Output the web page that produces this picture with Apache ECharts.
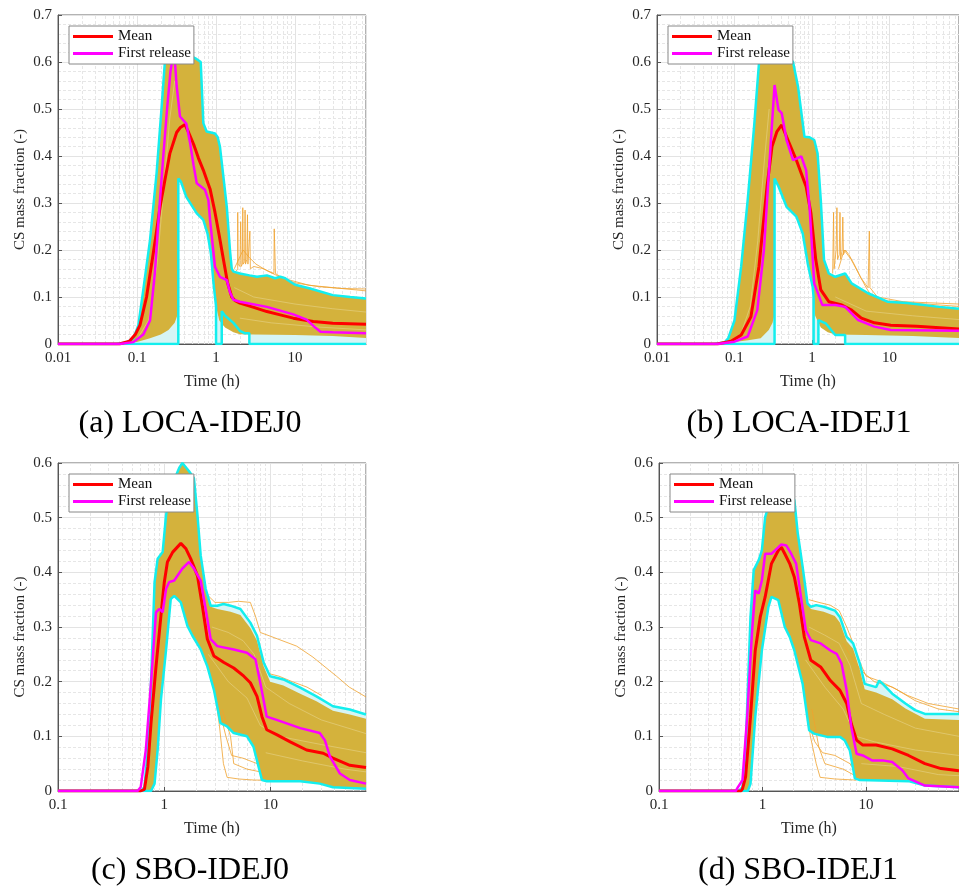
<!DOCTYPE html>
<html><head><meta charset="utf-8">
<script src="https://cdn.jsdelivr.net/npm/echarts@6/dist/echarts.min.js"></script>
<style>html,body{margin:0;padding:0;background:#fff}#c{width:959px;height:889px}</style>
</head><body><div id="c"></div>
<script>
// ---------------- DATA (time in h, CS mass fraction) ----------------
// (a) LOCA-IDEJ0
const aMax = [[0.01,0],[0.055,0],[0.075,0.004],[0.09,0.012],[0.104,0.04],[0.12,0.115],[0.146,0.221],[0.177,0.364],[0.205,0.505],[0.226,0.604],[0.25,0.64],[0.29,0.66],[0.35,0.655],[0.42,0.63],[0.49,0.612],[0.57,0.606],[0.64,0.6],[0.69,0.47],[0.76,0.452],[0.97,0.448],[1.05,0.44],[1.12,0.42],[1.25,0.35],[1.37,0.29],[1.5,0.2],[1.58,0.16],[1.66,0.154],[2.0,0.15],[2.65,0.146],[3.3,0.143],[4.4,0.146],[5.6,0.14],[6.5,0.143],[7.5,0.14],[8.6,0.133],[10,0.126],[15.5,0.118],[30,0.104],[50,0.1],[79,0.097]];
const aMin = [[0.01,0],[0.333,0],[0.333,0.352],[0.36,0.345],[0.42,0.313],[0.57,0.278],[0.69,0.264],[0.78,0.235],[0.86,0.193],[0.93,0.129],[1.0,0.08],[1.0,0],[1.18,0],[1.18,0.07],[1.3,0.06],[1.66,0.045],[2.0,0.028],[2.3,0.023],[2.64,0.023],[2.64,0],[79,0]];
const aGoldLow = [[0.01,0],[0.055,0],[0.1,0.004],[0.146,0.012],[0.2,0.02],[0.25,0.03],[0.3,0.045],[0.33,0.065],[0.333,0.352],[0.36,0.345],[0.42,0.313],[0.57,0.278],[0.69,0.264],[0.78,0.235],[0.86,0.193],[0.93,0.129],[1.0,0.08],[1.1,0.05],[1.3,0.035],[1.66,0.025],[2.0,0.021],[3,0.02],[10,0.019],[30,0.017],[79,0.013]];
const aMean = [[0.01,0],[0.06,0],[0.08,0.006],[0.095,0.02],[0.109,0.04],[0.132,0.1],[0.153,0.17],[0.175,0.235],[0.195,0.29],[0.226,0.35],[0.26,0.405],[0.317,0.45],[0.35,0.46],[0.405,0.467],[0.45,0.45],[0.52,0.425],[0.6,0.395],[0.69,0.37],[0.76,0.35],[0.84,0.33],[0.97,0.28],[1.1,0.23],[1.24,0.18],[1.4,0.13],[1.58,0.1],[1.75,0.092],[2.0,0.087],[3,0.078],[4.4,0.069],[6.5,0.062],[9.5,0.055],[17,0.048],[30,0.044],[79,0.042]];
const aFirst = [[0.01,0],[0.06,0],[0.09,0.004],[0.12,0.02],[0.146,0.05],[0.168,0.15],[0.19,0.28],[0.215,0.4],[0.24,0.5],[0.265,0.58],[0.288,0.618],[0.302,0.6],[0.317,0.55],[0.35,0.484],[0.42,0.469],[0.47,0.427],[0.52,0.38],[0.57,0.342],[0.725,0.328],[0.8,0.306],[0.84,0.264],[0.97,0.164],[1.12,0.143],[1.37,0.136],[1.5,0.11],[1.66,0.094],[2,0.09],[4.4,0.079],[9.5,0.063],[14,0.052],[18,0.035],[21,0.026],[30,0.025],[79,0.023]];
const aOut1 = [[1.8,0.155],[1.88,0.16],[1.88,0.28],[1.9,0.17],[2.0,0.165],[2.05,0.26],[2.08,0.165],[2.15,0.17],[2.18,0.29],[2.21,0.17],[2.3,0.175],[2.33,0.285],[2.36,0.17],[2.45,0.18],[2.5,0.275],[2.53,0.17],[2.65,0.17],[2.68,0.24],[2.72,0.16],[3,0.165],[4,0.16],[5.4,0.15],[5.45,0.245],[5.6,0.245],[5.65,0.15],[7,0.14],[10,0.13],[20,0.122],[40,0.118],[79,0.117]];
const aOut2 = [[1.7,0.16],[2.2,0.2],[2.6,0.185],[3.2,0.17],[4.5,0.155],[7,0.14],[15,0.125],[79,0.113]];
const aOut3 = [[0.9,0.25],[1.0,0.12],[1.1,0.06],[1.3,0.045]];
const aStreak1 = [[0.1,0.01],[0.14,0.05],[0.18,0.17],[0.22,0.34],[0.26,0.48],[0.3,0.56]];
const aStreak2 = [[1.7,0.12],[3,0.1],[10,0.085],[30,0.075],[79,0.068]];
const aStreak3 = [[2,0.055],[5,0.045],[20,0.036],[79,0.03]];
// (b) LOCA-IDEJ1
const bMax = [[0.01,0],[0.055,0],[0.075,0.004],[0.083,0.012],[0.1,0.05],[0.122,0.165],[0.148,0.306],[0.179,0.462],[0.207,0.597],[0.24,0.64],[0.3,0.66],[0.38,0.64],[0.49,0.61],[0.57,0.6],[0.66,0.548],[0.8,0.441],[0.93,0.44],[1.07,0.434],[1.18,0.406],[1.3,0.306],[1.43,0.179],[1.65,0.15],[2.0,0.143],[2.68,0.15],[3.25,0.129],[5.3,0.108],[9.4,0.09],[16.8,0.087],[44,0.079],[79,0.075]];
const bMin = [[0.01,0],[0.329,0],[0.329,0.352],[0.37,0.335],[0.47,0.292],[0.63,0.271],[0.76,0.235],[0.88,0.172],[1.02,0.122],[1.05,0.1],[1.05,0],[1.21,0],[1.21,0.051],[1.5,0.044],[2.0,0.019],[2.68,0.019],[2.68,0],[79,0]];
const bGoldLow = [[0.01,0],[0.055,0],[0.1,0.004],[0.15,0.008],[0.218,0.012],[0.277,0.03],[0.31,0.045],[0.326,0.06],[0.329,0.352],[0.37,0.335],[0.47,0.292],[0.63,0.271],[0.76,0.235],[0.88,0.172],[1.02,0.122],[1.1,0.06],[1.3,0.035],[1.6,0.025],[2.0,0.02],[5,0.019],[20,0.017],[79,0.013]];
const bMean = [[0.01,0],[0.06,0],[0.09,0.006],[0.122,0.019],[0.163,0.058],[0.207,0.165],[0.263,0.335],[0.305,0.42],[0.353,0.452],[0.407,0.466],[0.47,0.441],[0.63,0.391],[0.84,0.335],[0.97,0.278],[1.12,0.179],[1.3,0.115],[1.65,0.09],[2.43,0.083],[3.25,0.072],[4.34,0.055],[6.4,0.045],[10.4,0.04],[22.5,0.038],[79,0.032]];
const bFirst = [[0.01,0],[0.06,0],[0.1,0.005],[0.148,0.016],[0.197,0.072],[0.24,0.2],[0.29,0.413],[0.329,0.551],[0.37,0.498],[0.407,0.491],[0.47,0.434],[0.57,0.391],[0.73,0.399],[0.84,0.37],[0.93,0.292],[1.07,0.129],[1.36,0.083],[2.0,0.083],[2.68,0.079],[3.25,0.065],[3.95,0.051],[6.4,0.037],[10.4,0.03],[79,0.028]];
const bOut1 = [[1.85,0.15],[1.9,0.28],[1.93,0.16],[2.05,0.2],[2.1,0.29],[2.14,0.18],[2.25,0.19],[2.3,0.28],[2.34,0.18],[2.45,0.2],[2.5,0.27],[2.55,0.19],[2.7,0.2],[3.0,0.19],[3.5,0.17],[4.3,0.14],[5.3,0.12],[5.5,0.24],[5.6,0.12],[7,0.1],[15,0.09],[79,0.085]];
const bOut2 = [[2.2,0.16],[2.6,0.2],[3.2,0.18],[4,0.15],[5,0.12],[6,0.1],[9,0.092],[30,0.085],[79,0.08]];
const bStreak1 = [[0.12,0.02],[0.16,0.08],[0.2,0.22],[0.24,0.38],[0.28,0.5]];
const bStreak2 = [[2,0.1],[5,0.07],[20,0.06],[79,0.052]];
// (c) SBO-IDEJ0
const cMax = [[0.1,0],[0.6,0],[0.65,0.007],[0.70,0.075],[0.75,0.198],[0.81,0.382],[0.866,0.425],[0.965,0.437],[1.04,0.505],[1.15,0.554],[1.38,0.591],[1.48,0.6],[1.54,0.597],[1.71,0.585],[1.9,0.572],[2.05,0.505],[2.2,0.431],[2.45,0.37],[2.73,0.339],[3.15,0.339],[3.6,0.342],[4.2,0.339],[5.2,0.333],[6.45,0.308],[7.45,0.284],[8.6,0.235],[9.9,0.21],[13.2,0.204],[19,0.189],[27,0.173],[38.6,0.155],[55.6,0.149],[79,0.14]];
const cMin = [[0.1,0],[0.75,0],[0.81,0.0135],[0.866,0.075],[0.93,0.167],[1.04,0.259],[1.15,0.351],[1.24,0.357],[1.43,0.345],[1.65,0.302],[1.84,0.284],[2.2,0.259],[2.54,0.228],[2.93,0.185],[3.38,0.124],[3.9,0.118],[4.5,0.106],[6.0,0.1],[6.9,0.081],[8.3,0.02],[9.2,0.018],[19,0.018],[29,0.0135],[38.6,0.007],[79,0.004]];
const cGoldUp = [[0.1,0],[0.6,0],[0.65,0.007],[0.70,0.075],[0.75,0.198],[0.81,0.382],[0.866,0.425],[0.965,0.437],[1.04,0.505],[1.15,0.554],[1.38,0.591],[1.48,0.6],[1.54,0.597],[1.71,0.585],[1.9,0.572],[2.05,0.505],[2.2,0.431],[2.45,0.37],[2.73,0.337],[3.15,0.333],[4.2,0.328],[5.2,0.322],[6.45,0.298],[7.45,0.275],[8.6,0.228],[9.9,0.2],[13.2,0.193],[19,0.178],[27,0.164],[38.6,0.147],[55.6,0.14],[79,0.132]];
const cMean = [[0.1,0],[0.6,0],[0.65,0.003],[0.70,0.044],[0.75,0.124],[0.836,0.228],[0.93,0.321],[1.0,0.382],[1.07,0.419],[1.2,0.437],[1.43,0.453],[1.6,0.443],[1.77,0.425],[2.05,0.394],[2.28,0.339],[2.54,0.278],[2.93,0.247],[3.64,0.235],[4.5,0.225],[5.6,0.21],[6.45,0.198],[7.45,0.173],[8.3,0.136],[9.2,0.112],[11.4,0.103],[15.3,0.09],[21.8,0.075],[31.3,0.069],[38.6,0.06],[55.6,0.047],[79,0.043]];
const cFirst = [[0.1,0],[0.56,0],[0.6,0.007],[0.67,0.075],[0.75,0.198],[0.836,0.327],[0.9,0.333],[0.965,0.327],[1.04,0.37],[1.11,0.382],[1.24,0.385],[1.48,0.407],[1.71,0.419],[1.9,0.407],[2.2,0.385],[2.45,0.333],[2.73,0.278],[3.15,0.265],[4.5,0.259],[6.0,0.253],[7.2,0.241],[8.0,0.198],[9.2,0.136],[11.4,0.13],[19,0.115],[29,0.106],[32.4,0.093],[36.2,0.063],[44.9,0.032],[55.6,0.02],[79,0.0135]];
const cOut1 = [[2.5,0.36],[3,0.345],[4,0.345],[5,0.347],[6.45,0.345],[7.2,0.32],[8,0.29],[10,0.283],[17.6,0.265],[25,0.245],[41.7,0.21],[55,0.19],[79,0.172]];
const cOut2 = [[2.9,0.2],[3.3,0.12],[3.6,0.05],[3.9,0.025],[5,0.022],[7,0.02],[8.3,0.02]];
const cOut3 = [[3.5,0.15],[4.2,0.1],[4.5,0.05],[6,0.04],[8,0.035],[9,0.025]];
const cOut4 = [[8,0.25],[9.5,0.215],[12,0.21],[16,0.2],[22,0.19],[30,0.175]];
const cOut5 = [[3.1,0.17],[3.8,0.1],[4.3,0.065],[5.5,0.06],[7.5,0.05],[8.6,0.03]];
const cStreak1 = [[2.8,0.3],[4,0.29],[5.5,0.275],[7,0.25],[9,0.19],[15,0.16],[30,0.13],[79,0.105]];
const cStreak2 = [[9,0.07],[20,0.055],[50,0.04],[79,0.035]];
const cStreak3 = [[2.6,0.25],[4,0.2],[6,0.17],[8,0.12],[12,0.1],[30,0.085],[79,0.07]];
// (d) SBO-IDEJ1
const dMax = [[0.1,0],[0.59,0],[0.64,0.007],[0.686,0.074],[0.765,0.318],[0.822,0.404],[0.917,0.422],[0.985,0.44],[1.06,0.501],[1.14,0.52],[1.42,0.532],[1.83,0.55],[2.03,0.532],[2.19,0.471],[2.44,0.41],[2.72,0.343],[2.93,0.337],[3.3,0.34],[3.9,0.337],[5.0,0.33],[5.6,0.318],[6.5,0.282],[7.5,0.27],[8.7,0.233],[9.7,0.196],[12.5,0.19],[13.4,0.202],[14.5,0.196],[17.9,0.178],[24,0.16],[29.8,0.148],[37,0.141],[79,0.141]];
const dMin = [[0.1,0],[0.72,0],[0.765,0.013],[0.85,0.135],[0.985,0.257],[1.14,0.337],[1.22,0.355],[1.42,0.349],[1.64,0.3],[1.83,0.282],[2.03,0.257],[2.44,0.196],[2.82,0.111],[3.14,0.105],[4.2,0.099],[5.6,0.099],[6.2,0.093],[6.97,0.074],[7.8,0.023],[8.7,0.02],[25.7,0.018],[37,0.01],[79,0.007]];
const dGoldUp = [[0.1,0],[0.59,0],[0.64,0.007],[0.686,0.074],[0.765,0.318],[0.822,0.404],[0.917,0.422],[0.985,0.44],[1.06,0.501],[1.14,0.52],[1.42,0.532],[1.83,0.55],[2.03,0.532],[2.19,0.471],[2.44,0.41],[2.72,0.343],[2.93,0.333],[3.9,0.328],[5.0,0.32],[5.6,0.308],[6.5,0.274],[7.5,0.26],[8.7,0.222],[9.7,0.186],[12.5,0.18],[17.9,0.168],[24,0.151],[37,0.132],[79,0.13]];
const dMean = [[0.1,0],[0.62,0],[0.64,0.004],[0.686,0.026],[0.765,0.135],[0.85,0.257],[0.95,0.318],[1.06,0.355],[1.22,0.416],[1.42,0.44],[1.52,0.446],[1.64,0.434],[1.83,0.416],[2.03,0.391],[2.27,0.343],[2.53,0.282],[2.93,0.239],[3.64,0.227],[4.52,0.202],[5.6,0.184],[6.5,0.16],[7.2,0.123],[8.1,0.093],[9.3,0.084],[12.5,0.084],[17.9,0.077],[25.7,0.065],[37,0.05],[53,0.041],[79,0.037]];
const dFirst = [[0.1,0],[0.55,0],[0.57,0.005],[0.64,0.02],[0.71,0.135],[0.79,0.288],[0.85,0.367],[0.917,0.361],[0.985,0.385],[1.06,0.434],[1.22,0.434],[1.32,0.44],[1.52,0.451],[1.7,0.449],[1.89,0.434],[2.11,0.416],[2.35,0.355],[2.62,0.294],[2.93,0.276],[3.64,0.27],[4.52,0.257],[5.2,0.251],[5.8,0.233],[6.5,0.184],[7.2,0.117],[8.1,0.068],[9.3,0.065],[11.4,0.056],[14.4,0.056],[17.9,0.053],[22.4,0.038],[25.7,0.023],[37,0.01],[79,0.007]];
const dOut1 = [[2.8,0.35],[3.5,0.345],[4.5,0.34],[5.5,0.33],[6.5,0.3],[7.5,0.27],[8.5,0.24],[10,0.21],[14,0.2],[20,0.185],[30,0.165],[50,0.15],[79,0.145]];
const dOut2 = [[6,0.27],[7.5,0.24],[9,0.22],[12,0.2],[18,0.19],[25,0.175],[40,0.16],[79,0.15]];
const dOut3 = [[2.5,0.18],[2.9,0.1],[3.3,0.05],[3.6,0.025],[5,0.022],[8,0.02]];
const dOut4 = [[3.0,0.15],[3.5,0.08],[4,0.05],[6,0.04],[7.5,0.03]];
const dOut5 = [[2.7,0.13],[3.2,0.09],[3.8,0.07],[5,0.065],[7,0.05],[8.2,0.03]];
const dStreak1 = [[2.8,0.3],[4,0.285],[5.5,0.27],[7,0.23],[9,0.16],[15,0.14],[30,0.115],[79,0.1]];
const dStreak2 = [[9,0.05],[20,0.045],[50,0.03],[79,0.028]];
const dStreak3 = [[2.6,0.24],[4,0.19],[6,0.15],[8,0.1],[12,0.09],[30,0.075],[79,0.065]];

const xTicksAB = ['0.01','0.1','1','10'];
const xTicksCD = ['0.1','1','10'];
const seriesNames = ['Mean','First release'];
const titles = ['(a) LOCA-IDEJ0','(b) LOCA-IDEJ1','(c) SBO-IDEJ0','(d) SBO-IDEJ1'];

// ---------------- LAYOUT / STYLE ----------------
const FONT = '"Liberation Serif","Times New Roman",serif';
const panels = [
  {left:58, top:15, width:308, height:329, xMin:0.01, xMax:79, yMax:0.7, ticks:xTicksAB,
   max:aMax, min:aMin, goldUp:aMax, goldLow:aGoldLow, mean:aMean, first:aFirst, outs:[aOut1,aOut2,aOut3],
   streaks:[aStreak1,aStreak2,aStreak3], tx:190, ty:424},
  {left:657, top:15, width:309, height:329, xMin:0.01, xMax:79, yMax:0.7, ticks:xTicksAB,
   max:bMax, min:bMin, goldUp:bMax, goldLow:bGoldLow, mean:bMean, first:bFirst, outs:[bOut1,bOut2],
   streaks:[bStreak1,bStreak2], tx:799, ty:424},
  {left:58, top:463, width:308, height:328, xMin:0.1, xMax:79, yMax:0.6, ticks:xTicksCD,
   max:cMax, min:cMin, goldUp:cGoldUp, goldLow:cMin, mean:cMean, first:cFirst, outs:[cOut1,cOut2,cOut3,cOut4,cOut5],
   streaks:[cStreak1,cStreak2,cStreak3], tx:190, ty:871},
  {left:659, top:463, width:308, height:328, xMin:0.1, xMax:79, yMax:0.6, ticks:xTicksCD,
   max:dMax, min:dMin, goldUp:dGoldUp, goldLow:dMin, mean:dMean, first:dFirst, outs:[dOut1,dOut2,dOut3,dOut4,dOut5],
   streaks:[dStreak1,dStreak2,dStreak3], tx:798, ty:871}
];
const C_GOLD = '#D4B23C', C_LCYAN = '#D6F5F5', C_CYAN = '#14EEEE', C_ORANGE = '#F0A22E', C_STREAK = '#E8D690';

function minorXs(lo, hi){
  const out = [];
  for (let e = Math.floor(Math.log10(lo)); e <= Math.ceil(Math.log10(hi)); e++){
    for (let k = 2; k <= 9; k++){ const v = k*Math.pow(10,e); if (v > lo*1.0001 && v < hi) out.push(v); }
  }
  return out;
}
function polygon(upper, lower, color, gi, z){
  return {type:'custom', xAxisIndex:gi, yAxisIndex:gi, z, silent:true, clip:true, animation:false,
    data:[[upper[0][0], 0]],
    renderItem:(params, api) => {
      const pts = upper.map(p => api.coord(p)).concat(lower.slice().reverse().map(p => api.coord(p)));
      return {type:'polygon', shape:{points:pts}, style:{fill:color}};
    }};
}
function line(data, gi, color, width, z, name, opacity){
  return {type:'line', name, xAxisIndex:gi, yAxisIndex:gi, data, showSymbol:false, symbol:'none',
    z, silent:true, clip:true, animation:false,
    lineStyle:{color, width, opacity: opacity==null?1:opacity}, itemStyle:{color}};
}

const grids = [], xAxes = [], yAxes = [], series = [], legends = [], graphics = [];
panels.forEach((p, gi) => {
  grids.push({left:p.left, top:p.top, width:p.width, height:p.height, show:true,
    borderColor:'#666', borderWidth:1, backgroundColor:'transparent', containLabel:false});
  xAxes.push({type:'log', logBase:10, gridIndex:gi, min:p.xMin, max:p.xMax,
    name:'Time (h)', nameLocation:'middle', nameGap:30,
    nameTextStyle:{fontFamily:FONT, fontSize:16, color:'#262626'},
    axisLine:{show:true, lineStyle:{color:'#555'}},
    axisTick:{show:true, inside:true, length:4, lineStyle:{color:'#555'}},
    axisLabel:{fontFamily:FONT, fontSize:15, color:'#262626', margin:7, showMaxLabel:false,
      formatter: v => { const t = p.ticks.find(s => Math.abs(Math.log10(parseFloat(s)) - Math.log10(v)) < 1e-6); return t || ''; }},
    splitLine:{show:true, lineStyle:{color:'#e3e3e3', width:1}}});
  yAxes.push({type:'value', gridIndex:gi, min:0, max:p.yMax, interval:0.1,
    name:'CS mass fraction (-)', nameLocation:'middle', nameGap:30,
    nameTextStyle:{fontFamily:FONT, fontSize:15, color:'#262626', padding:[0,20,0,0]},
    axisLine:{show:true, lineStyle:{color:'#555'}},
    axisTick:{show:true, inside:true, length:4, lineStyle:{color:'#555'}},
    axisLabel:{fontFamily:FONT, fontSize:15, color:'#262626', margin:6, formatter: v => String(+v.toFixed(2))},
    splitLine:{show:true, lineStyle:{color:'#e3e3e3', width:1}},
    minorTick:{show:false, splitNumber:5},
    minorSplitLine:{show:true, lineStyle:{color:'#e6e6e6', width:1, type:[3,2]}}});
  // minor log grid lines
  series.push({type:'line', xAxisIndex:gi, yAxisIndex:gi, data:[[p.xMin,0]], symbol:'none', silent:true,
    lineStyle:{opacity:0}, z:0, animation:false,
    markLine:{silent:true, symbol:'none', z:0, label:{show:false}, animation:false,
      lineStyle:{color:'#e6e6e6', width:1, type:[3,2]},
      data: minorXs(p.xMin, p.xMax).map(v => ({xAxis:v}))}});
  series.push(polygon(p.max, p.min, C_LCYAN, gi, 1));
  series.push(polygon(p.goldUp, p.goldLow, C_GOLD, gi, 2));
  p.streaks.forEach(s => series.push(line(s, gi, C_STREAK, 0.8, 2, undefined, 0.7)));
  p.outs.forEach(o => series.push(line(o, gi, C_ORANGE, 1, 3, undefined, 0.8)));
  series.push(line(p.max, gi, C_CYAN, 2.5, 4));
  series.push(line(p.min, gi, C_CYAN, 2.5, 4));
  series.push(line(p.mean, gi, '#FF0000', 3, 5, seriesNames[0]));
  series.push(line(p.first, gi, '#FF00FF', 2.5, 6, seriesNames[1]));
  legends.push({left:p.left+11, top:p.top+11, orient:'vertical', data:seriesNames, selectedMode:false, z:20,
    icon:'rect', itemWidth:40, itemHeight:3, itemGap:0, itemTextGap:3,
    backgroundColor:'#fff', borderColor:'#888', borderWidth:1, padding:[2,3,2,4],
    textStyle:{fontFamily:FONT, fontSize:15, color:'#111', lineHeight:17}});
  graphics.push({type:'text', x:p.tx, y:p.ty, silent:true,
    style:{text:titles[gi], font:'32px ' + FONT, fill:'#000', textAlign:'center', textVerticalAlign:'middle'}});
});

const chart = echarts.init(document.getElementById('c'), null, {renderer:'canvas'});
chart.setOption({animation:false, backgroundColor:'#fff', grid:grids, xAxis:xAxes, yAxis:yAxes,
  series, legend:legends, graphic:graphics});
</script></body></html>
